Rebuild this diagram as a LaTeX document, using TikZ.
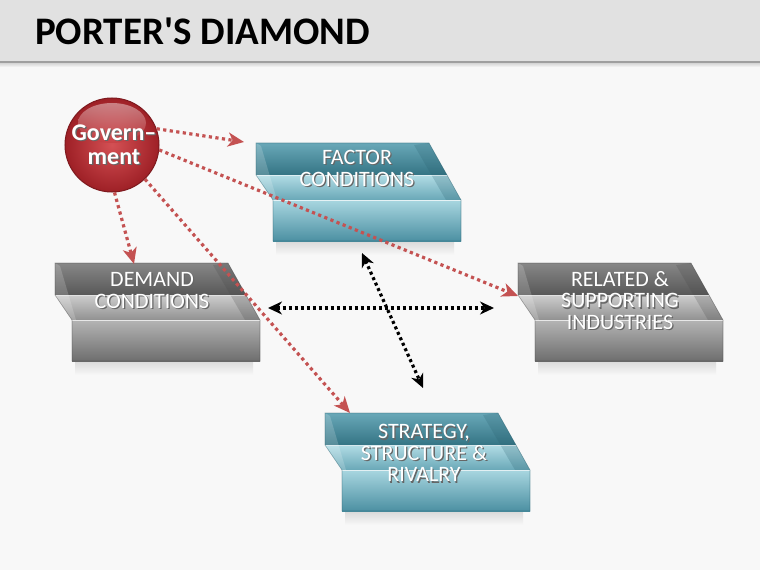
\documentclass[tikz,border=0pt]{standalone}
\usepackage{fontspec}
\setmainfont{Carlito}
\newfontfamily\titlefont{Carlito}
\usetikzlibrary{arrows.meta,shadings}
\definecolor{arrred}{RGB}{196,82,82}
\definecolor{govred}{RGB}{190,50,55}
\definecolor{govlight}{RGB}{212,80,84}
\definecolor{govouter}{RGB}{158,32,38}
\definecolor{govdark}{RGB}{125,25,30}
\definecolor{hdr}{RGB}{225,225,225}
\definecolor{bg}{RGB}{248,248,248}
% teal palette
\definecolor{tealA1}{RGB}{105,168,184}
\definecolor{tealA2}{RGB}{52,116,132}
\definecolor{tealB1}{RGB}{178,220,229}
\definecolor{tealB2}{RGB}{105,168,183}
\definecolor{tealC1}{RGB}{168,214,224}
\definecolor{tealC2}{RGB}{76,144,162}
\definecolor{tealW}{RGB}{40,95,110}
% grey palette
\definecolor{greyA1}{RGB}{135,135,135}
\definecolor{greyA2}{RGB}{88,88,88}
\definecolor{greyB1}{RGB}{205,205,205}
\definecolor{greyB2}{RGB}{145,145,145}
\definecolor{greyC1}{RGB}{180,180,180}
\definecolor{greyC2}{RGB}{110,110,110}
\definecolor{greyW}{RGB}{70,70,70}
\newcommand\shd[1]{\rlap{\kern1.3bp\raisebox{-1.3bp}{\textcolor{black!60}{#1}}}#1}
\newcommand\drawtray[3]{%
 \begin{scope}[shift={(#1,#2)}]
  \shade[top color=gray!28, bottom color=bg] (20,99) rectangle (198,112);
  \shade[top color=#3C1, bottom color=#3C2] (17,57) rectangle (205,98);
  \shade[top color=#3B1, bottom color=#3B2] (0,32) -- (191,32) -- (205,57) -- (17,57) -- cycle;
  \shade[top color=#3A1, bottom color=#3A2] (0,0) -- (173,0) -- (191,32) -- (0,32) -- cycle;
  \fill[#3W, opacity=0.22] (158,2) -- (173,0) -- (205,57) -- (190,57) -- cycle;
  \fill[white, opacity=0.18] (0,0) -- (5,3) -- (21,57) -- (17,57) -- (0,32) -- cycle;
  \draw[white, opacity=0.55, line width=0.8bp] (0,32) -- (191,32);
  \draw[white, opacity=0.7, line width=0.8bp] (17,57) -- (205,57);
  \draw[#3W, opacity=0.45, line width=0.6bp] (0,0) -- (173,0) -- (205,57) -- (205,98) -- (17,98) -- (17,57) -- (0,32) -- cycle;
 \end{scope}}
\tikzset{
 boxtxt/.style={text=white, align=center, font=\fontsize{22bp}{21.5bp}\selectfont, inner sep=0pt},
 redarr/.style={draw=arrred, line width=3.2bp, dash pattern=on 3.2bp off 3.4bp, -{Stealth[length=16bp,width=14bp,inset=4.5bp]}},
 blkarr/.style={draw=black, line width=3.2bp, dash pattern=on 3bp off 3bp, {Stealth[length=14bp,width=13bp,inset=4.5bp]}-{Stealth[length=14bp,width=13bp,inset=4.5bp]}}
}
\begin{document}
\begin{tikzpicture}[x=1bp,y=-1bp]
\useasboundingbox (0,0) rectangle (760,570);
\fill[bg] (0,0) rectangle (760,570);
% header
\shade[top color=gray!40, bottom color=bg] (0,62) rectangle (760,67);
\fill[hdr] (0,0) rectangle (760,62);
\draw[gray!75, line width=2bp] (0,62) -- (760,62);
\node[anchor=base west, inner sep=0pt, font=\titlefont\bfseries\fontsize{39bp}{39bp}\selectfont] (title) at (35,45) {PORTER'S DIAMOND};
% trays
\drawtray{256}{143}{teal}
\drawtray{55}{263}{grey}
\drawtray{518}{263}{grey}
\drawtray{325}{413}{teal}
\node[boxtxt] (factor) at (357,169) {\shd{FACTOR}\\\shd{CONDITIONS}};
\node[boxtxt] (demand) at (152,291) {\shd{DEMAND}\\\shd{CONDITIONS}};
\node[boxtxt] (related) at (620,301) {\shd{RELATED \&}\\\shd{SUPPORTING}\\\shd{INDUSTRIES}};
\node[boxtxt] (strategy) at (424,454) {\shd{STRATEGY,}\\\shd{STRUCTURE \&}\\\shd{RIVALRY}};
% government
\node[circle, minimum size=94bp, inner sep=0pt, inner color=govlight, outer color=govouter, draw=govdark, line width=1bp] (gov) at (112,145) {};
\shade[top color=white, bottom color=govred, opacity=0.42] (112,123) ellipse [x radius=34, y radius=20];
\node[text=white, align=center, inner sep=0pt, font=\bfseries\fontsize{24bp}{24bp}\selectfont] (govtxt) at (114,145) {\shd{Govern–}\\\shd{ment}};
% black double arrows
\coordinate (hl) at (268,308);
\coordinate (hr) at (494,308);
\coordinate (vt) at (362,253);
\coordinate (vb) at (423,388);
\draw[blkarr] (hl) -- (hr);
\draw[blkarr] (vt) -- (vb);
% red arrows
\coordinate (e1) at (244,142);
\coordinate (e2) at (518,296);
\coordinate (e3) at (134,264);
\coordinate (e4) at (350,413);
\draw[redarr] (gov.20) -- (e1);
\draw[redarr] (gov.-6) -- (e2);
\draw[redarr] (gov.-87) -- (e3);
\draw[redarr] (gov.-46) -- (e4);
\end{tikzpicture}
\end{document}
